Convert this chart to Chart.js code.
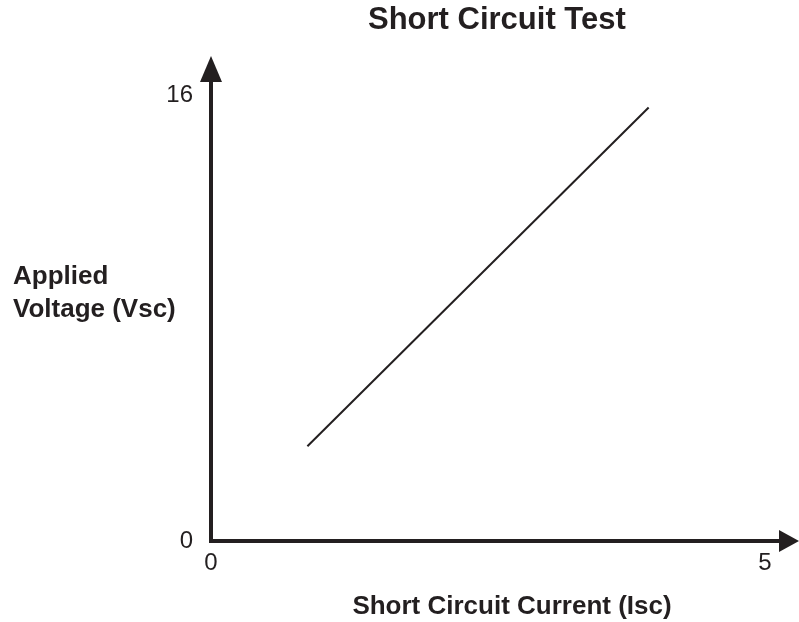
<!DOCTYPE html>
<html>
<head>
<meta charset="utf-8">
<title>Short Circuit Test</title>
<script src="https://cdn.jsdelivr.net/npm/chart.js@4/dist/chart.umd.min.js"></script>
<style>
  html, body { margin: 0; padding: 0; background: #fff; }
  #wrap { width: 799px; height: 622px; }
</style>
</head>
<body>
<div id="wrap"><canvas id="chartSc" width="799" height="622"></canvas></div>
<script>
// Données
const courantIsc = [0.87, 3.95];
const tensionVsc = [3.4, 15.55];
const ticksX = [0, 5];
const ticksY = [0, 16];

const titre = 'Short Circuit Test';
const titreX = 'Short Circuit Current (Isc)';
const titreY = ['Applied', 'Voltage (Vsc)'];

const encre = '#231f20';
const police = '"Liberation Sans", Arial, sans-serif';

// axes avec flèches + libellés
const axesFleches = {
  id: 'axesFleches',
  afterDatasetsDraw(chart) {
    const { ctx, scales: { x, y } } = chart;
    const x0 = x.getPixelForValue(0);
    const y0 = y.getPixelForValue(0);
    ctx.save();
    ctx.strokeStyle = encre;
    ctx.fillStyle = encre;
    ctx.lineWidth = 4;
    ctx.lineCap = 'butt';

    // axe vertical
    ctx.beginPath();
    ctx.moveTo(x0, y0 + 2);
    ctx.lineTo(x0, 78);
    ctx.stroke();
    ctx.beginPath();
    ctx.moveTo(x0, 56);
    ctx.lineTo(x0 - 11, 82);
    ctx.lineTo(x0 + 11, 82);
    ctx.closePath();
    ctx.fill();

    // axe horizontal
    ctx.beginPath();
    ctx.moveTo(x0 - 2, y0);
    ctx.lineTo(782, y0);
    ctx.stroke();
    ctx.beginPath();
    ctx.moveTo(799, y0);
    ctx.lineTo(779, y0 - 11);
    ctx.lineTo(779, y0 + 11);
    ctx.closePath();
    ctx.fill();

    // titres
    ctx.textBaseline = 'alphabetic';
    ctx.textAlign = 'left';
    ctx.font = `bold 31px ${police}`;
    ctx.fillText(titre, 368, 29);

    ctx.font = `bold 26px ${police}`;
    ctx.fillText(titreY[0], 13, 284);
    ctx.fillText(titreY[1], 13, 317);

    ctx.textAlign = 'center';
    ctx.fillText(titreX, 512, 614);
    ctx.restore();
  }
};

new Chart(document.getElementById('chartSc'), {
  type: 'line',
  data: {
    datasets: [{
      data: courantIsc.map((v, i) => ({ x: v, y: tensionVsc[i] })),
      borderColor: encre,
      borderWidth: 2,
      pointRadius: 0,
      fill: false,
      tension: 0
    }]
  },
  options: {
    responsive: false,
    animation: false,
    layout: { padding: { top: 95, right: 34, left: 0, bottom: 0 } },
    plugins: {
      legend: { display: false },
      tooltip: { enabled: false },
      title: { display: false }
    },
    scales: {
      x: {
        type: 'linear',
        min: 0, max: 5,
        afterBuildTicks: (s) => { s.ticks = ticksX.map(v => ({ value: v })); },
        afterFit: (s) => { s.height = 81; },
        grid: { display: false, drawTicks: false },
        border: { display: false },
        ticks: { color: encre, font: { family: police, size: 24 }, padding: 8, maxRotation: 0 }
      },
      y: {
        type: 'linear',
        min: 0, max: 16,
        afterBuildTicks: (s) => { s.ticks = ticksY.map(v => ({ value: v })); },
        afterFit: (s) => { s.width = 211; },
        grid: { display: false, drawTicks: false },
        border: { display: false },
        ticks: { color: encre, font: { family: police, size: 24 }, padding: 18 }
      }
    }
  },
  plugins: [axesFleches]
});
</script>
</body>
</html>
